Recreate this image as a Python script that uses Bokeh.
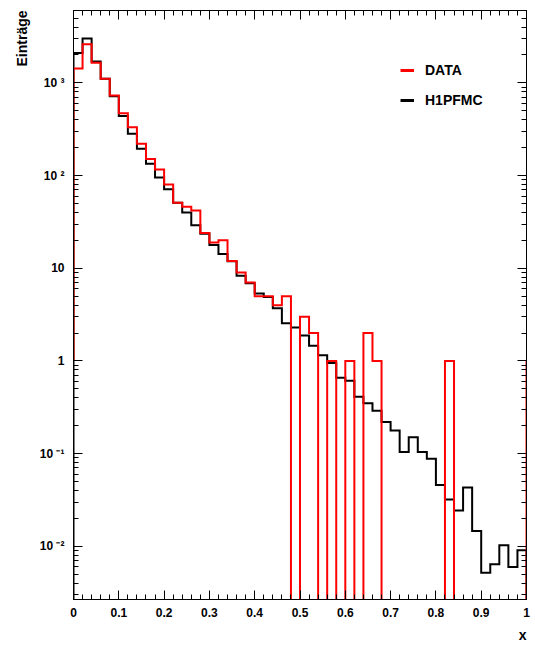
import numpy as np
from bokeh.plotting import figure
from bokeh.models import (LogAxis, LinearAxis, Range1d, Legend, LegendItem, Title,
                          FixedTicker)
from bokeh.embed import file_html
from bokeh.resources import INLINE

# ---- data ----
bin_edges = [round(0.02 * i, 2) for i in range(51)]

data_counts = [1430, 2600, 1650, 1110, 730, 470, 332, 220, 151, 116,
               80, 51, 46, 42, 24, 19, 20, 12, 9, 7,
               5, 5, 4, 5, 0, 3, 2, 0, 1, 0,
               1, 0, 2, 1, 0, 0, 0, 0, 0, 0,
               0, 1, 0, 0, 0, 0, 0, 0, 0, 0]

mc_counts = [2100, 3000, 1700, 1110, 717, 440, 282, 194, 134, 95,
             71, 51, 40, 29, 23.5, 17.8, 14.2, 11.9, 8.3, 6.9,
             5.35, 4.9, 3.7, 2.55, 2.29, 1.88, 1.46, 1.15, 0.95, 0.66,
             0.61, 0.41, 0.35, 0.29, 0.22, 0.178, 0.104, 0.15, 0.104, 0.088,
             0.046, 0.032, 0.0243, 0.043, 0.0146, 0.0052, 0.0064, 0.0103, 0.006, 0.0091]

x_ticks = [0.0, 0.1, 0.2, 0.3, 0.4, 0.5, 0.6, 0.7, 0.8, 0.9, 1.0]
x_tick_labels = ["0", "0.1", "0.2", "0.3", "0.4", "0.5", "0.6", "0.7", "0.8", "0.9", "1"]
y_ticks = [0.01, 0.1, 1, 10, 100, 1000]
y_tick_labels = ["10 \u207b\u00b2", "10 \u207b\u00b9", "1", "10", "10 \u00b2", "10 \u00b3"]

series_names = ["DATA", "H1PFMC"]
series_colors = ["#ff0000", "#000000"]
x_title = "x"
y_title = "Einträge"

YMIN, YMAX = 0.00267, 6030.0
FLOOR = 1e-3
FONT = "Liberation Sans"


def outline(counts, start, end):
    xs = [bin_edges[0]]
    ys = [start]
    for i, c in enumerate(counts):
        v = c if c > 0 else FLOOR
        xs += [bin_edges[i], bin_edges[i + 1]]
        ys += [v, v]
    xs += [bin_edges[-1], bin_edges[-1]]
    ys += [FLOOR, end]
    return xs, ys


p = figure(frame_width=453, frame_height=589,
           x_range=Range1d(0, 1), y_range=Range1d(YMIN, YMAX),
           y_axis_type="log", output_backend="svg", toolbar_location=None,
           min_border_left=73, min_border_right=8, min_border_top=10, min_border_bottom=44,
           x_axis_location=None, y_axis_location=None)
p.xgrid.visible = False
p.ygrid.visible = False
p.outline_line_color = "black"
p.outline_line_width = 1
p.background_fill_color = "white"
p.border_fill_color = "white"

x_minor = [round(0.02 * i, 2) for i in range(51)]
y_minor = [k * 10.0 ** n for n in range(-3, 4) for k in range(2, 10)]
xticker = FixedTicker(ticks=x_ticks, minor_ticks=x_minor)
yticker = FixedTicker(ticks=y_ticks, minor_ticks=y_minor)


def style_axis(ax, show_labels):
    ax.major_tick_in = 9
    ax.major_tick_out = 0
    ax.minor_tick_in = 5
    ax.minor_tick_out = 0
    ax.axis_line_color = "black"
    ax.major_tick_line_color = "black"
    ax.minor_tick_line_color = "black"
    if show_labels:
        ax.major_label_text_font = FONT
        ax.major_label_text_font_style = "bold"
        ax.major_label_text_font_size = "12px"
        ax.major_label_text_color = "black"
    else:
        ax.major_label_text_font_size = "1px"
        ax.major_label_text_color = None
        ax.major_label_standoff = 0


xb = LinearAxis(ticker=xticker)
style_axis(xb, True)
xb.major_label_standoff = 8
xb.major_label_overrides = {t: l for t, l in zip(x_ticks, x_tick_labels)}
p.add_layout(xb, "below")

xt = LinearAxis(ticker=xticker)
style_axis(xt, False)
p.add_layout(xt, "above")

yl = LogAxis(ticker=yticker)
style_axis(yl, True)
yl.major_label_standoff = 9
yl.major_label_overrides = {t: l for t, l in zip(y_ticks, y_tick_labels)}
p.add_layout(yl, "left")

yr = LogAxis(ticker=yticker)
style_axis(yr, False)
p.add_layout(yr, "right")

# axis titles (ROOT style: right / top aligned)
p.add_layout(Title(text=x_title, align="right", text_font=FONT, text_font_style="bold",
                   text_font_size="14px", text_color="black", standoff=10), "below")
p.add_layout(Title(text=y_title, align="right", text_font=FONT, text_font_style="bold",
                   text_font_size="14px", text_color="black", standoff=13), "left")

# histograms
mx, my = outline(mc_counts, FLOOR, FLOOR)
r_mc = p.line(mx, my, line_color=series_colors[1], line_width=2, line_join="miter")
dx, dy = outline(data_counts, 1.0, 1.0)
r_data = p.line(dx, dy, line_color=series_colors[0], line_width=2, line_join="miter")

# legend (dummy renderers for thicker legend lines)
r_leg_d = p.line(x=[np.nan], y=[np.nan], line_color=series_colors[0], line_width=3)
r_leg_m = p.line(x=[np.nan], y=[np.nan], line_color=series_colors[1], line_width=3)
legend = Legend(items=[LegendItem(label=series_names[0], renderers=[r_leg_d]),
                       LegendItem(label=series_names[1], renderers=[r_leg_m])],
                location=(327, 489), border_line_color=None, background_fill_alpha=0,
                label_text_font=FONT, label_text_font_style="bold", label_text_font_size="14px",
                label_text_color="black",
                glyph_width=14, glyph_height=20, label_height=20, spacing=10,
                padding=0, margin=0, label_standoff=11)
p.add_layout(legend)

open("out.html", "w").write(file_html(p, INLINE))
